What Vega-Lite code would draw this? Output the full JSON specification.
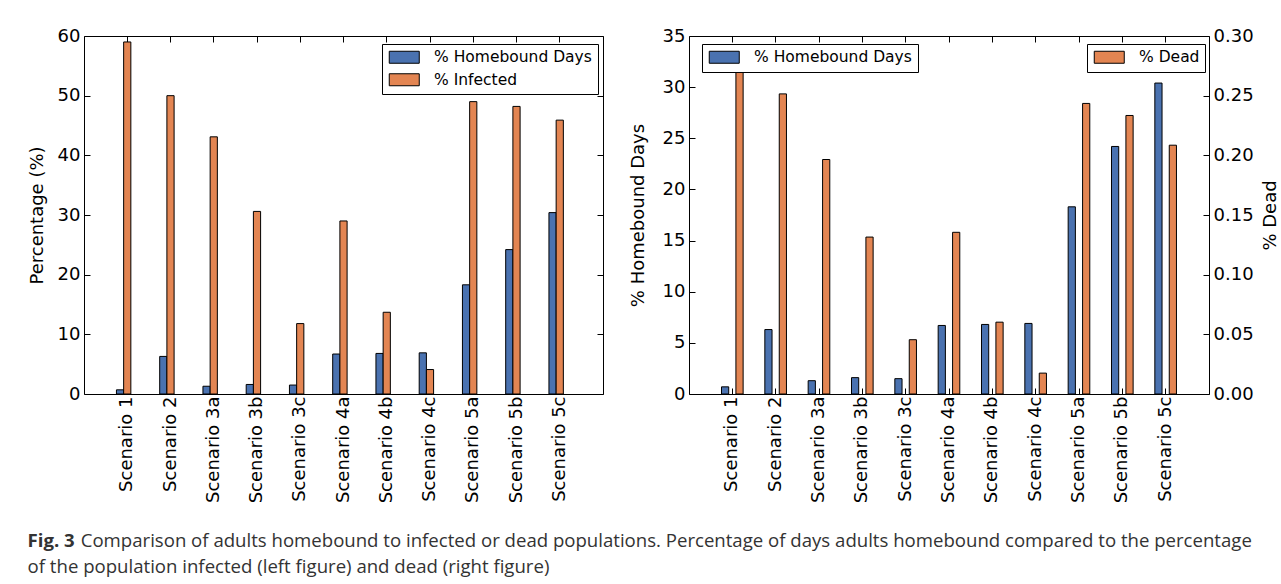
{
  "$schema": "https://vega.github.io/schema/vega-lite/v6.json",
  "padding": {"left": 27, "top": 26, "right": 5, "bottom": 5},
  "background": "white",
  "datasets": {
    "vals": [
      {"scenario": "Scenario 1", "series": "% Homebound Days", "value": 0.7},
      {"scenario": "Scenario 2", "series": "% Homebound Days", "value": 6.3},
      {"scenario": "Scenario 3a", "series": "% Homebound Days", "value": 1.3},
      {"scenario": "Scenario 3b", "series": "% Homebound Days", "value": 1.6},
      {"scenario": "Scenario 3c", "series": "% Homebound Days", "value": 1.5},
      {"scenario": "Scenario 4a", "series": "% Homebound Days", "value": 6.7},
      {"scenario": "Scenario 4b", "series": "% Homebound Days", "value": 6.8},
      {"scenario": "Scenario 4c", "series": "% Homebound Days", "value": 6.9},
      {"scenario": "Scenario 5a", "series": "% Homebound Days", "value": 18.3},
      {"scenario": "Scenario 5b", "series": "% Homebound Days", "value": 24.2},
      {"scenario": "Scenario 5c", "series": "% Homebound Days", "value": 30.4},
      {"scenario": "Scenario 1", "series": "% Infected", "value": 59.0},
      {"scenario": "Scenario 2", "series": "% Infected", "value": 50.0},
      {"scenario": "Scenario 3a", "series": "% Infected", "value": 43.1},
      {"scenario": "Scenario 3b", "series": "% Infected", "value": 30.6},
      {"scenario": "Scenario 3c", "series": "% Infected", "value": 11.8},
      {"scenario": "Scenario 4a", "series": "% Infected", "value": 29.0},
      {"scenario": "Scenario 4b", "series": "% Infected", "value": 13.7},
      {"scenario": "Scenario 4c", "series": "% Infected", "value": 4.1},
      {"scenario": "Scenario 5a", "series": "% Infected", "value": 49.0},
      {"scenario": "Scenario 5b", "series": "% Infected", "value": 48.2},
      {"scenario": "Scenario 5c", "series": "% Infected", "value": 45.9},
      {"scenario": "Scenario 1", "series": "% Dead", "value": 0.283},
      {"scenario": "Scenario 2", "series": "% Dead", "value": 0.2515},
      {"scenario": "Scenario 3a", "series": "% Dead", "value": 0.1965},
      {"scenario": "Scenario 3b", "series": "% Dead", "value": 0.1315},
      {"scenario": "Scenario 3c", "series": "% Dead", "value": 0.0455},
      {"scenario": "Scenario 4a", "series": "% Dead", "value": 0.1355},
      {"scenario": "Scenario 4b", "series": "% Dead", "value": 0.0602},
      {"scenario": "Scenario 4c", "series": "% Dead", "value": 0.0175},
      {"scenario": "Scenario 5a", "series": "% Dead", "value": 0.2435},
      {"scenario": "Scenario 5b", "series": "% Dead", "value": 0.2334},
      {"scenario": "Scenario 5c", "series": "% Dead", "value": 0.2085}
    ]
  },
  "title": {
    "text": "Fig. 3",
    "subtitle": ["\u200b\u00a0\u00a0\u00a0\u00a0\u00a0\u00a0\u00a0\u00a0\u00a0\u00a0\u00a0Comparison of adults homebound to infected or dead populations. Percentage of days adults homebound compared to the percentage", "of the population infected (left figure) and dead (right figure)"],
    "orient": "bottom",
    "anchor": "start",
    "frame": "bounds",
    "offset": 29,
    "font": "Open Sans",
    "fontSize": 18.6,
    "fontWeight": "bold",
    "color": "#333333",
    "subtitleFont": "Open Sans",
    "subtitleFontSize": 18.6,
    "subtitleFontWeight": "normal",
    "subtitleColor": "#333333",
    "subtitlePadding": -18.6,
    "subtitleLineHeight": 26
  },
  "spacing": 24,
  "hconcat": [
    {
      "width": 519,
      "height": 358,
      "data": {"name": "vals"},
      "transform": [{"filter": "datum.series !== '% Dead'"}],
      "layer": [
        {
          "mark": {"type": "bar", "stroke": "black", "strokeWidth": 1},
          "encoding": {
            "x": {"field": "scenario", "type": "nominal", "scale": {"paddingInner": 0.5, "paddingOuter": 0.75},
                  "axis": {"orient": "bottom", "title": null, "labelAngle": -90, "labelPadding": 8}},
            "xOffset": {"field": "series", "type": "nominal", "scale": {"domain": ["% Homebound Days", "% Infected"], "paddingInner": 0, "paddingOuter": 0}},
            "y": {"field": "value", "type": "quantitative", "scale": {"domain": [0, 60], "nice": false},
                  "axis": {"title": "Percentage (%)", "values": [0, 10, 20, 30, 40, 50, 60], "titlePadding": 11, "labelPadding": 10}},
            "color": {"field": "series", "type": "nominal", "scale": {"domain": ["% Homebound Days", "% Infected"], "range": ["#4A72B0", "#E38552"]},
                      "legend": {"orient": "none", "legendX": 298, "legendY": 8}}
          }
        },
        {
          "mark": {"type": "point", "opacity": 0},
          "encoding": {
            "x": {"field": "scenario", "type": "nominal", "axis": {"orient": "top", "title": null, "labels": false}},
            "y": {"field": "value", "type": "quantitative", "axis": {"orient": "right", "title": null, "labels": false, "values": [0, 10, 20, 30, 40, 50, 60]}}
          }
        }
      ],
      "resolve": {"axis": {"x": "independent", "y": "independent"}}
    },
    {
      "width": 520,
      "height": 358,
      "data": {"name": "vals"},
      "layer": [
        {
          "transform": [{"filter": "datum.series === '% Homebound Days'"}],
          "mark": {"type": "bar", "stroke": "black", "strokeWidth": 1},
          "encoding": {
            "x": {"field": "scenario", "type": "nominal", "scale": {"paddingInner": 0.5, "paddingOuter": 0.75},
                  "axis": {"orient": "bottom", "title": null, "labelAngle": -90, "labelPadding": 8}},
            "xOffset": {"field": "series", "type": "nominal", "scale": {"domain": ["% Homebound Days", "% Dead"], "paddingInner": 0, "paddingOuter": 0}},
            "y": {"field": "value", "type": "quantitative", "scale": {"domain": [0, 35], "nice": false},
                  "axis": {"title": "% Homebound Days", "orient": "left", "values": [0, 5, 10, 15, 20, 25, 30, 35], "titlePadding": 15, "labelPadding": 10}},
            "color": {"field": "series", "type": "nominal", "scale": {"domain": ["% Homebound Days"], "range": ["#4A72B0"]},
                      "legend": {"orient": "none", "legendX": 13, "legendY": 8}}
          }
        },
        {
          "transform": [{"filter": "datum.series === '% Dead'"}],
          "mark": {"type": "bar", "stroke": "black", "strokeWidth": 1, "zindex": 1},
          "encoding": {
            "x": {"field": "scenario", "type": "nominal", "axis": {"orient": "top", "title": null, "labels": false}},
            "xOffset": {"field": "series", "type": "nominal", "scale": {"domain": ["% Homebound Days", "% Dead"], "paddingInner": 0, "paddingOuter": 0}},
            "y": {"field": "value", "type": "quantitative", "scale": {"domain": [0, 0.3], "nice": false},
                  "axis": {"title": "% Dead", "orient": "right", "format": ".2f", "values": [0, 0.05, 0.1, 0.15, 0.2, 0.25, 0.3], "titleAngle": 270, "titleBaseline": "top", "titlePadding": 8, "labelPadding": 10}},
            "color": {"field": "series", "type": "nominal", "scale": {"domain": ["% Dead"], "range": ["#E38552"]},
                      "legend": {"orient": "none", "legendX": 398, "legendY": 8}}
          }
        }
      ],
      "resolve": {"scale": {"y": "independent", "color": "independent"}, "axis": {"x": "independent", "y": "independent"}, "legend": {"color": "independent"}}
    }
  ],
  "config": {
    "font": "DejaVu Sans",
    "view": {"stroke": "black", "strokeWidth": 1},
    "axis": {
      "domain": false, "grid": false, "tickColor": "black", "tickSize": -6, "tickWidth": 1,
      "labelFont": "DejaVu Sans", "labelFontSize": 18, "labelColor": "black",
      "titleFont": "DejaVu Sans", "titleFontSize": 18, "titleFontWeight": "normal", "titleColor": "black"
    },
    "legend": {
      "title": null,
      "strokeColor": "black", "fillColor": "white", "cornerRadius": 0, "padding": 5.5,
      "labelFont": "DejaVu Sans", "labelFontSize": 15.5, "labelColor": "black", "labelLimit": 400,
      "symbolType": "M-1,-1H4V1H-1Z", "symbolSize": 144,
      "symbolStrokeColor": "black", "symbolStrokeWidth": 1, "symbolOpacity": 1,
      "rowPadding": 4.5, "labelOffset": 31
    }
  }
}
